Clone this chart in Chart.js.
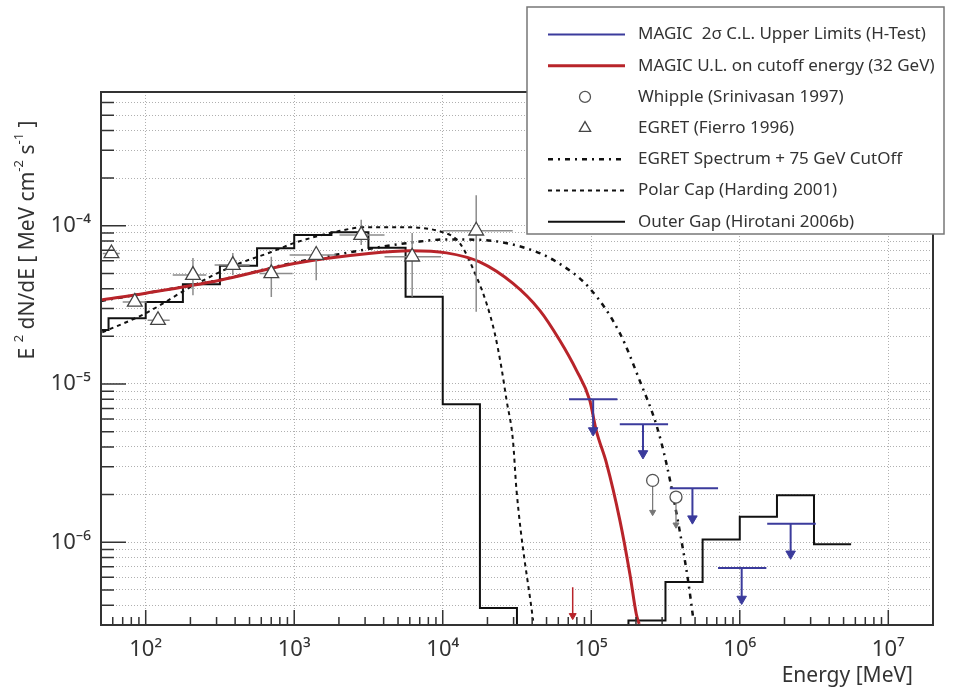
<!DOCTYPE html>
<html>
<head>
<meta charset="utf-8">
<title>Crab pulsar - MAGIC upper limits</title>
<script src="https://cdn.jsdelivr.net/npm/chart.js@4.4.1/dist/chart.umd.min.js"></script>
<style>
  html, body { margin: 0; padding: 0; background: #fff; }
</style>
</head>
<body>
<canvas id="crab" width="961" height="687"></canvas>
<script>
// Energy in MeV, flux as E^2 dN/dE in MeV cm^-2 s^-1

// MAGIC 2 sigma upper limits
var ulE    = [1.03e5, 2.23e5, 4.8e5, 1.03e6, 2.2e6];
var ulElo  = [7.08e4, 1.556e5, 3.38e5, 7.14e5, 1.53e6];
var ulEhi  = [1.5e5, 3.29e5, 7.14e5, 1.51e6, 3.25e6];
var ulF    = [8.0e-6, 5.56e-6, 2.19e-6, 6.88e-7, 1.31e-6];
var ulTip  = [5.08e-6, 3.64e-6, 1.41e-6, 4.38e-7, 8.45e-7];

// MAGIC U.L. on the cutoff energy
var cutE   = [7.5e4];
var cutF   = [5.2e-7];
var cutTip = [3.44e-7];

var redE = [50, 100, 316, 1000, 3180, 6000, 1.06e4, 1.77e4, 2.97e4, 4.5e4, 6.13e4, 7.95e4, 9.77e4, 1.08e5, 1.27e5, 1.56e5, 1.82e5, 2.01e5, 2.1e5];
var redF = [3.39e-5, 3.75e-5, 4.53e-5, 5.78e-5, 6.68e-5, 6.95e-5, 6.74e-5, 5.91e-5, 4.32e-5, 2.92e-5, 1.89e-5, 1.22e-5, 7.89e-6, 5.09e-6, 3.13e-6, 1.37e-6, 6.3e-7, 3.52e-7, 3.05e-7];

// Whipple (Srinivasan 1997)
var whipE   = [2.59e5, 3.72e5];
var whipF   = [2.46e-6, 1.93e-6];
var whipTip = [1.55e-6, 1.29e-6];

// EGRET (Fierro 1996)
var egretE   = [58.8, 84.4, 121, 208, 386, 701, 1406, 2825, 6225, 16800];
var egretElo = [51.4, 70, 103, 152, 291, 584, 931, 2018, 4055, 10000];
var egretEhi = [66.9, 101.6, 145, 256, 501, 975, 1918, 4055, 9750, 29600];
var egretF   = [6.68e-5, 3.30e-5, 2.53e-5, 4.88e-5, 5.64e-5, 5.0e-5, 6.53e-5, 8.73e-5, 6.37e-5, 9.3e-5];
var egretFlo = [6.68e-5, 3.30e-5, 2.53e-5, 3.64e-5, 4.88e-5, 3.55e-5, 4.53e-5, 7.55e-5, 3.56e-5, 2.86e-5];
var egretFhi = [6.68e-5, 3.30e-5, 2.53e-5, 6.25e-5, 6.72e-5, 6.37e-5, 7.23e-5, 1.09e-4, 9.0e-5, 1.56e-4];

// EGRET spectrum + 75 GeV cutoff
var specE = [50, 100, 316, 1000, 2000, 4000, 6300, 1.06e4, 1.77e4, 3.66e4, 5.83e4, 9.77e4, 1.56e5, 2.12e5, 2.75e5, 3.21e5, 3.94e5, 4.49e5, 4.85e5];
var specF = [3.35e-5, 3.75e-5, 4.55e-5, 5.85e-5, 6.6e-5, 7.4e-5, 7.85e-5, 8.2e-5, 8.15e-5, 7.2e-5, 5.92e-5, 4.02e-5, 2.09e-5, 1.05e-5, 5.48e-6, 3.13e-6, 1.18e-6, 5.7e-7, 3.35e-7];

// Polar cap (Harding 2001)
var pcE = [51, 100, 200, 400, 700, 1000, 2000, 3000, 5000, 1e4, 1.3e4, 1.69e4, 1.97e4, 2.24e4, 2.48e4, 2.69e4, 2.97e4, 3.14e4, 4.06e4];
var pcF = [2.12e-5, 2.8e-5, 4.09e-5, 5.64e-5, 6.82e-5, 7.78e-5, 9.25e-5, 9.8e-5, 9.8e-5, 9.1e-5, 7.78e-5, 4.75e-5, 3.24e-5, 2.09e-5, 1.28e-5, 7.9e-6, 4.4e-6, 2.12e-6, 3.2e-7];

// Outer gap (Hirotani 2006b), histogram: bin edges and one level per bin
// (bins between 3e4 and 2e5 MeV lie below the bottom of the plot)
var ogEdges = [31.6, 56.2, 100, 178, 316, 562, 1000, 1780, 3160, 5620, 1e4, 1.78e4, 3.16e4, 5.62e4, 1e5, 1.78e5, 3.16e5, 5.62e5, 1e6, 1.78e6, 3.16e6, 5.62e6];
var ogF     = [2.19e-5, 2.6e-5, 3.3e-5, 4.27e-5, 5.58e-5, 7.2e-5, 8.73e-5, 9.08e-5, 7.26e-5, 3.56e-5, 7.46e-6, 3.84e-7, 1e-8, 1e-8, 1e-8, 3.2e-7, 5.6e-7, 1.04e-6, 1.45e-6, 1.98e-6, 9.7e-7];

var xMin = 50, xMax = 2e7;
var yMin = 3e-7, yMax = 7e-4;

var FONT = '"Noto Sans", "Open Sans", sans-serif';
var TXT = '#333';
var BLUE = '#3b3b9c';
var RED = '#b8242a';
var GREY = '#8c8c8c';

function pts(xs, ys) {
  return xs.map(function (x, i) { return { x: x, y: ys[i] }; });
}

// several short segments in one dataset, split by null points
function segments(list) {
  var out = [];
  list.forEach(function (s) {
    out.push({ x: s[0], y: s[1] }, { x: s[2], y: s[3] }, { x: null, y: null });
  });
  return out;
}

function histo(edges, levels) {
  var out = levels.map(function (v, i) { return { x: edges[i], y: v }; });
  out.push({ x: edges[edges.length - 1], y: levels[levels.length - 1] });
  return out;
}

function isDecade(v) {
  var l = Math.log10(v);
  return Math.abs(l - Math.round(l)) < 1e-6;
}

function logTicks(min, max) {
  var t = [];
  for (var k = Math.floor(Math.log10(min)); k <= Math.ceil(Math.log10(max)); k++) {
    for (var m = 1; m <= 9; m++) {
      var v = m * Math.pow(10, k);
      if (v >= min * (1 - 1e-9) && v <= max * (1 + 1e-9)) t.push({ value: v });
    }
  }
  return t;
}

var SUP = { '-': '\u207B', '0': '\u2070', '1': '\u00B9', '2': '\u00B2', '3': '\u00B3', '4': '\u2074',
            '5': '\u2075', '6': '\u2076', '7': '\u2077', '8': '\u2078', '9': '\u2079' };
function powLabel(v) {
  if (!isDecade(v)) return '';
  var e = String(Math.round(Math.log10(v)));
  return '10' + e.split('').map(function (c) { return SUP[c]; }).join('');
}

var ulBars = [], ulShafts = [], egretBars = [], whipShafts = [];
ulE.forEach(function (e, i) {
  ulBars.push([ulElo[i], ulF[i], ulEhi[i], ulF[i]]);
  ulShafts.push([e, ulF[i], e, ulTip[i]]);
});
egretE.forEach(function (e, i) {
  egretBars.push([egretElo[i], egretF[i], egretEhi[i], egretF[i]]);
  if (egretFhi[i] > egretFlo[i]) egretBars.push([e, egretFlo[i], e, egretFhi[i]]);
});
whipE.forEach(function (e, i) { whipShafts.push([e, whipF[i], e, whipTip[i]]); });

var lineBase = { showLine: true, pointRadius: 0, fill: false, spanGaps: false };

var datasets = [
  Object.assign({}, lineBase, {
    label: 'MAGIC  2\u03C3 C.L. Upper Limits (H-Test)', inLegend: true,
    data: segments(ulBars.concat(ulShafts)), borderColor: BLUE, borderWidth: 2, order: 1
  }),
  Object.assign({}, lineBase, {
    label: 'MAGIC U.L. on cutoff energy (32 GeV)', inLegend: true,
    data: pts(redE, redF), borderColor: RED, borderWidth: 3, cubicInterpolationMode: 'monotone', order: 5
  }),
  {
    label: 'Whipple (Srinivasan 1997)', inLegend: true,
    data: pts(whipE, whipF), pointStyle: 'circle', pointRadius: 6, borderWidth: 1.3,
    borderColor: '#555', backgroundColor: '#fff', order: 2
  },
  {
    label: 'EGRET (Fierro 1996)', inLegend: true,
    data: pts(egretE, egretF), pointStyle: 'triangle', pointRadius: 8.5, borderWidth: 1.3,
    borderColor: '#444', backgroundColor: '#fff', order: 3
  },
  Object.assign({}, lineBase, {
    label: 'EGRET Spectrum + 75 GeV CutOff', inLegend: true,
    data: pts(specE, specF), borderColor: '#111', borderWidth: 2.5, borderDash: [5, 5, 2, 5],
    cubicInterpolationMode: 'monotone', order: 6
  }),
  Object.assign({}, lineBase, {
    label: 'Polar Cap (Harding 2001)', inLegend: true,
    data: pts(pcE, pcF), borderColor: '#111', borderWidth: 2, borderDash: [4, 4],
    cubicInterpolationMode: 'monotone', order: 7
  }),
  Object.assign({}, lineBase, {
    label: 'Outer Gap (Hirotani 2006b)', inLegend: true,
    data: histo(ogEdges, ogF), borderColor: '#111', borderWidth: 2, stepped: 'before', order: 8
  }),
  // helpers: error bars and arrows
  Object.assign({}, lineBase, {
    label: 'EGRET errors', data: segments(egretBars), borderColor: GREY, borderWidth: 1.5, order: 4
  }),
  Object.assign({}, lineBase, {
    label: 'Whipple arrows', data: segments(whipShafts), borderColor: '#777', borderWidth: 1.2, order: 2
  }),
  {
    label: 'Whipple heads', data: pts(whipE, whipTip), pointStyle: 'triangle', pointRotation: 180,
    pointRadius: 3.5, borderWidth: 1, borderColor: '#777', backgroundColor: '#777', order: 2
  },
  {
    label: 'UL heads', data: pts(ulE, ulTip), pointStyle: 'triangle', pointRotation: 180,
    pointRadius: 5.5, borderWidth: 1, borderColor: BLUE, backgroundColor: BLUE, order: 1
  },
  Object.assign({}, lineBase, {
    label: 'cutoff arrow', data: segments([[cutE[0], cutF[0], cutE[0], cutTip[0]]]),
    borderColor: RED, borderWidth: 1.5, order: 1
  }),
  {
    label: 'cutoff head', data: pts(cutE, cutTip), pointStyle: 'triangle', pointRotation: 180,
    pointRadius: 4, borderWidth: 1, borderColor: RED, backgroundColor: RED, order: 1
  }
];

function richText(ctx, parts, size, x, y, align) {
  var w = 0;
  parts.forEach(function (p) {
    ctx.font = (p[1] ? size * 0.62 : size) + 'px ' + FONT;
    w += ctx.measureText(p[0]).width;
  });
  var cx = align === 'right' ? x - w : x - w / 2;
  ctx.textBaseline = 'middle';
  ctx.textAlign = 'left';
  parts.forEach(function (p) {
    ctx.font = (p[1] ? size * 0.62 : size) + 'px ' + FONT;
    ctx.fillText(p[0], cx, p[1] ? y - size * 0.42 : y);
    cx += ctx.measureText(p[0]).width;
  });
}

var framePlugin = {
  id: 'frame',
  afterDraw: function (chart) {
    var ctx = chart.ctx, a = chart.chartArea;
    var xs = chart.scales.x, ys = chart.scales.y;
    ctx.save();
    ctx.strokeStyle = '#333';
    ctx.lineWidth = 1.5;
    ctx.beginPath();
    ys.ticks.forEach(function (t) {
      var py = ys.getPixelForValue(t.value);
      ctx.moveTo(a.left, py);
      ctx.lineTo(a.left + (isDecade(t.value) ? 25 : 13), py);
    });
    xs.ticks.forEach(function (t) {
      var px = xs.getPixelForValue(t.value);
      ctx.moveTo(px, a.bottom);
      ctx.lineTo(px, a.bottom - (isDecade(t.value) ? 15 : 8));
    });
    ctx.stroke();
    ctx.lineWidth = 2;
    ctx.strokeRect(a.left, a.top, a.right - a.left, a.bottom - a.top);

    // axis titles
    ctx.fillStyle = TXT;
    ctx.font = '21px ' + FONT;
    ctx.textAlign = 'right';
    ctx.textBaseline = 'middle';
    ctx.fillText('Energy [MeV]', 913, 676);
    ctx.save();
    ctx.translate(28, 240);
    ctx.rotate(-Math.PI / 2);
    richText(ctx, [['E ', 0], ['2', 1], [' dN/dE [ MeV cm', 0], ['-2', 1], [' s', 0], ['-1', 1], [' ]', 0]], 21, 0, 0);
    ctx.restore();

    // legend box
    var bx = 527, by = 7, bw = 417, bh = 227;
    ctx.fillStyle = '#fff';
    ctx.fillRect(bx, by, bw, bh);
    ctx.strokeStyle = '#777';
    ctx.lineWidth = 1.5;
    ctx.strokeRect(bx, by, bw, bh);

    var row = 0;
    chart.data.datasets.forEach(function (ds) {
      if (!ds.inLegend) return;
      var y = 34.5 + row * 31.2;
      row++;
      ctx.save();
      if (ds.showLine) {
        ctx.strokeStyle = ds.borderColor;
        ctx.lineWidth = ds.borderWidth;
        ctx.setLineDash(ds.borderDash || []);
        ctx.beginPath();
        ctx.moveTo(548, y);
        ctx.lineTo(625, y);
        ctx.stroke();
      } else {
        ctx.strokeStyle = ds.borderColor;
        ctx.fillStyle = ds.backgroundColor;
        ctx.lineWidth = ds.borderWidth;
        ctx.beginPath();
        if (ds.pointStyle === 'triangle') {
          var r = 6.5;
          ctx.moveTo(585, y - r);
          ctx.lineTo(585 + r * 0.866, y + r / 2);
          ctx.lineTo(585 - r * 0.866, y + r / 2);
          ctx.closePath();
        } else {
          ctx.arc(585, y, 5.5, 0, Math.PI * 2);
        }
        ctx.fill();
        ctx.stroke();
      }
      ctx.restore();
      ctx.fillStyle = TXT;
      ctx.font = '17px ' + FONT;
      ctx.textAlign = 'left';
      ctx.textBaseline = 'middle';
      ctx.fillText(ds.label, 638, y);
    });
    ctx.restore();
  }
};

Chart.defaults.font.family = FONT;
Chart.defaults.color = TXT;

new Chart(document.getElementById('crab'), {
  type: 'scatter',
  data: { datasets: datasets },
  plugins: [framePlugin],
  options: {
    responsive: false,
    animation: false,
    devicePixelRatio: 1,
    layout: { padding: { top: 92, right: 28, left: 0, bottom: 0 } },
    plugins: { legend: { display: false }, tooltip: { enabled: false } },
    scales: {
      x: {
        type: 'logarithmic',
        min: xMin, max: xMax,
        afterBuildTicks: function (s) { s.ticks = logTicks(xMin, xMax); },
        afterFit: function (s) { s.height = 62; },
        ticks: {
          autoSkip: false, maxRotation: 0, padding: 12,
          font: { size: 22 }, color: TXT,
          callback: function (v) { return powLabel(v); }
        },
        grid: {
          drawTicks: false, lineWidth: 1,
          color: function (c) { return c.tick && isDecade(c.tick.value) ? '#b0b0b0' : 'rgba(0,0,0,0)'; }
        },
        border: { display: false, dash: [1, 2] }
      },
      y: {
        type: 'logarithmic',
        min: yMin, max: yMax,
        afterBuildTicks: function (s) { s.ticks = logTicks(yMin, yMax); },
        afterFit: function (s) { s.width = 101; },
        ticks: {
          autoSkip: false, padding: 10,
          font: { size: 22 }, color: TXT,
          callback: function (v) { return powLabel(v); }
        },
        grid: { drawTicks: false, lineWidth: 1, color: '#b0b0b0' },
        border: { display: false, dash: [1, 2] }
      }
    }
  }
});
</script>
</body>
</html>
